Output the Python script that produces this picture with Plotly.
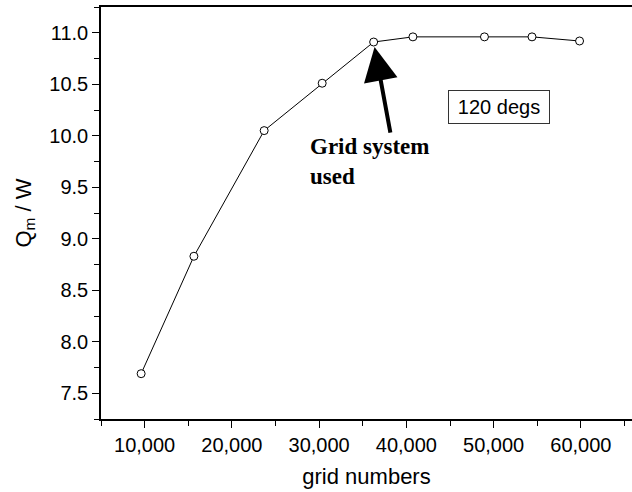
import plotly.graph_objects as go

grid_numbers = [9600, 15650, 23700, 30350, 36250, 40750, 48950, 54400, 59850]
qm_values = [7.69, 8.83, 10.05, 10.51, 10.91, 10.96, 10.96, 10.96, 10.92]
used_index = 4
x_ticks = [10000, 20000, 30000, 40000, 50000, 60000]
y_ticks = [7.5, 8.0, 8.5, 9.0, 9.5, 10.0, 10.5, 11.0]

fig = go.Figure()
fig.add_trace(go.Scatter(
    x=grid_numbers, y=qm_values, mode="lines+markers",
    line=dict(color="black", width=1),
    marker=dict(symbol="circle", size=8, color="white",
                line=dict(color="black", width=1)),
    showlegend=False,
))

axis_font = dict(family="Liberation Sans, Arial", size=20, color="black")

fig.update_layout(
    width=632, height=492,
    margin=dict(l=101, r=0, t=7, b=73),
    paper_bgcolor="white", plot_bgcolor="white",
    xaxis=dict(
        range=[5000, 65860], tickvals=x_ticks, tickformat=",d",
        showline=True, linecolor="black", linewidth=1.5, mirror=True,
        ticks="outside", ticklen=7, tickwidth=1, tickcolor="black",
        minor=dict(dtick=5000, tick0=5000, ticks="outside", ticklen=5,
                   tickcolor="black", tickwidth=1),
        showgrid=False, zeroline=False, tickfont=axis_font,
        title=dict(text="grid numbers",
                   font=dict(family="Liberation Sans, Arial", size=22, color="black"),
                   standoff=14),
    ),
    yaxis=dict(
        range=[7.25, 11.25], tickvals=y_ticks, tickformat=".1f",
        showline=True, linecolor="black", linewidth=1.5, mirror=False,
        ticks="outside", ticklen=7, tickwidth=1, tickcolor="black",
        minor=dict(dtick=0.25, tick0=7.25, ticks="outside", ticklen=5,
                   tickcolor="black", tickwidth=1),
        showgrid=False, zeroline=False, tickfont=axis_font,
        title=dict(text="Q<sub>m</sub> / W",
                   font=dict(family="Liberation Sans, Arial", size=22, color="black"),
                   standoff=12),
    ),
)

fig.add_annotation(
    x=grid_numbers[used_index], y=qm_values[used_index], xref="x", yref="y",
    ax=17, ay=92, axref="pixel", ayref="pixel",
    text="", showarrow=True, arrowhead=2, arrowsize=1.7, arrowwidth=4,
    arrowcolor="black", standoff=5,
)
fig.add_annotation(
    x=0.389, y=0.626, xref="paper", yref="paper", xanchor="left", yanchor="middle",
    text="<b>Grid system<br>used</b>", showarrow=False, align="left",
    font=dict(family="Liberation Serif, Times New Roman", size=23, color="black"),
)
fig.add_annotation(
    x=0.7495, y=0.758, xref="paper", yref="paper", xanchor="center", yanchor="middle",
    text="120 degs", showarrow=False, width=96, height=28, borderpad=2,
    bordercolor="#333333", borderwidth=1, bgcolor="white",
    font=dict(family="Liberation Sans, Arial", size=20, color="black"),
)

fig.write_html("out.html")
